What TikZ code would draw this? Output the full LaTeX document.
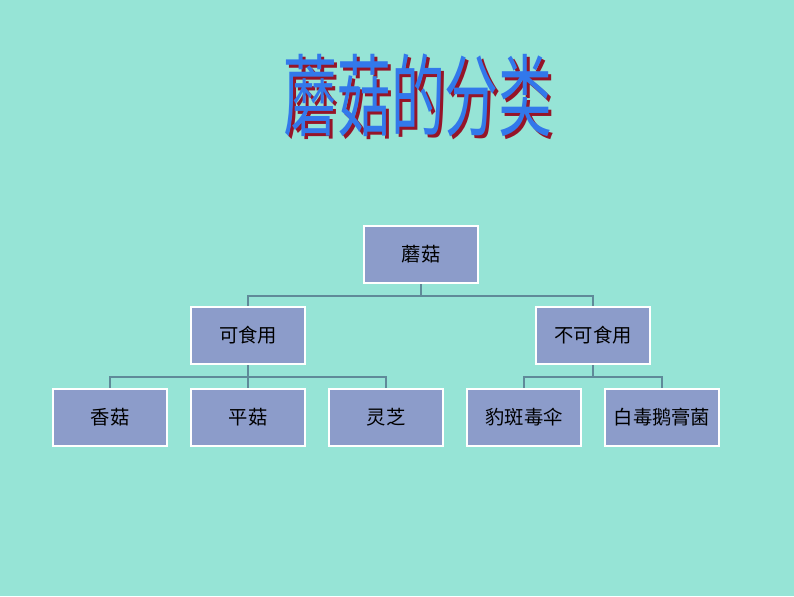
\documentclass[tikz,border=0pt]{standalone}
\usepackage{fontspec}
\newfontfamily\cjk{Noto Sans CJK SC}
\definecolor{bgteal}{RGB}{150,228,214}
\definecolor{boxblue}{RGB}{140,156,202}
\definecolor{linkgray}{RGB}{95,138,153}
\definecolor{titleblue}{RGB}{50,120,235}
\definecolor{titlered}{RGB}{150,20,40}
\tikzset{
  kind/.style={draw=white, line width=1.5pt, fill=boxblue, minimum width=2.28cm,
    minimum height=1.14cm, inner sep=0pt, font=\cjk\fontsize{11}{13}\selectfont},
  link/.style={draw=linkgray, line width=1.2pt},
  heading/.style={xscale=0.6, inner sep=0pt, font=\cjk\fontsize{51}{53}\selectfont}
}
\begin{document}
\begin{tikzpicture}[x=0.02cm,y=-0.02cm]
        %%%%%%%%%% Sfondo %%%%%%%%%%
        \fill[bgteal] (0,0) rectangle (794,596);
        \useasboundingbox (0,0) rectangle (794,596);

        %%%%%%%%%% Titolo %%%%%%%%%%
        \node[heading, text=titlered] (shadow) at (421,98) {蘑菇的分类};
        \node[heading, text=titleblue] (title) at (418,95) {蘑菇的分类};

        %%%%%%%%%% Nodi %%%%%%%%%%
        \node[kind] (root) at (421,254.5) {蘑菇};
        \node[kind] (edible) at (248,335.5) {可食用};
        \node[kind] (toxic) at (593,335.5) {不可食用};
        \node[kind] (shiitake) at (110,417.5) {香菇};
        \node[kind] (oyster) at (248,417.5) {平菇};
        \node[kind] (reishi) at (386,417.5) {灵芝};
        \node[kind] (panther) at (524,417.5) {豹斑毒伞};
        \node[kind] (angel) at (662,417.5) {白毒鹅膏菌};

        %%%%%%%%% Collegamenti %%%%%%%%
        \draw[link] (root.south) -- ++(0,12) -| (edible.north);
        \draw[link] (root.south) -- ++(0,12) -| (toxic.north);
        \draw[link] (edible.south) -- ++(0,12) -| (shiitake.north);
        \draw[link] (edible.south) -- (oyster.north);
        \draw[link] (edible.south) -- ++(0,12) -| (reishi.north);
        \draw[link] (toxic.south) -- ++(0,12) -| (panther.north);
        \draw[link] (toxic.south) -- ++(0,12) -| (angel.north);
\end{tikzpicture}
\end{document}
